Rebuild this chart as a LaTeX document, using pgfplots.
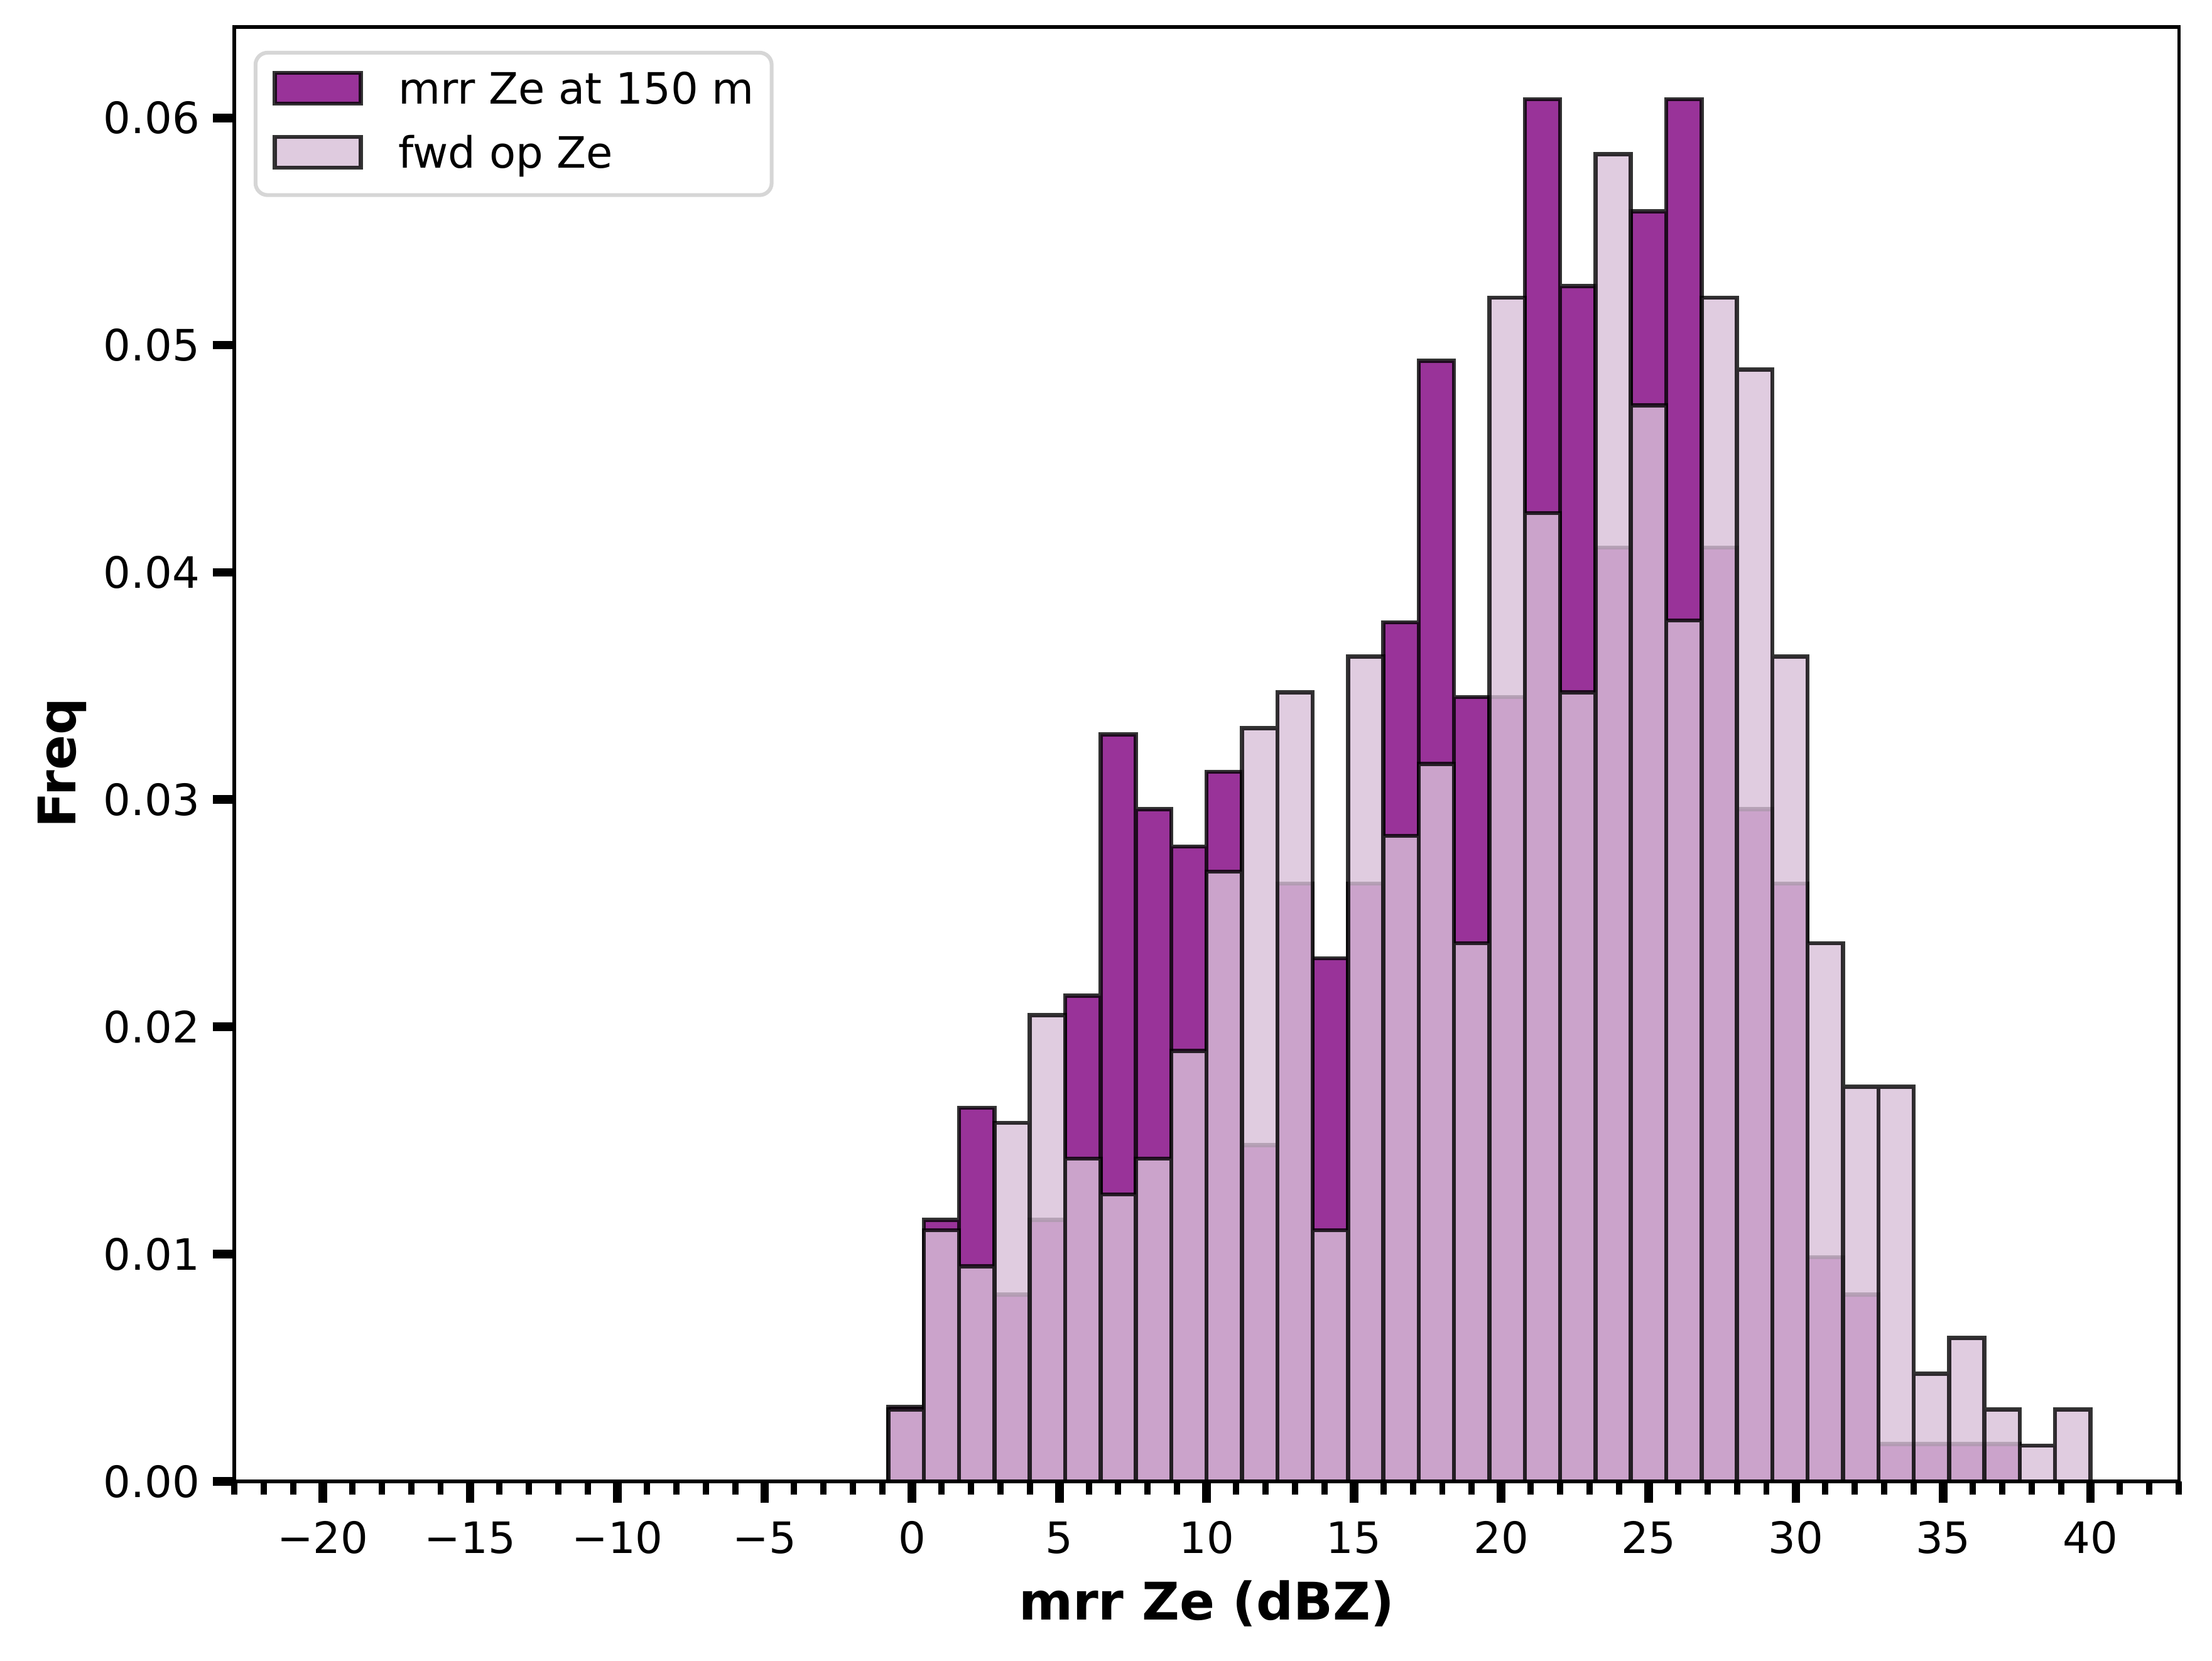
\documentclass[border=0pt]{standalone}
\usepackage{fontspec}
\setmainfont{DejaVu Sans}
\usepackage{pgfplots}
\pgfplotsset{compat=1.18}
\definecolor{mplpurple}{HTML}{800080}
\definecolor{mplthistle}{HTML}{D8BFD8}
\definecolor{legendgrey}{HTML}{D6D6D6}
\pgfplotsset{mpllegend/.style={legend image code/.code={%
  \draw[##1,sharp corners] (0.4pt,-2.35pt) rectangle (18.3pt,4.05pt);
  \path[draw=none,fill=none] (0pt,0pt) -- (26.1pt,0pt);}}}
\begin{document}
\begin{tikzpicture}
\useasboundingbox (-48.8pt,-37.4pt) rectangle (411.8pt,308.5pt);
\begin{axis}[
  at={(0pt,0pt)}, anchor=south west,
  scale only axis, width=404.9pt, height=302.9pt,
  xmin=-23, xmax=43, ymin=0, ymax=0.0640,
  axis on top,
  axis line style={line width=0.7pt},
  tick align=outside, tick pos=left,
  xtick={-20,-15,-10,-5,0,5,10,15,20,25,30,35,40},
  xticklabels={−20,−15,−10,−5,0,5,10,15,20,25,30,35,40},
  minor xtick={-23,-22,...,43},
  ytick={0,0.01,0.02,0.03,0.04,0.05,0.06},
  yticklabels={0.00,0.01,0.02,0.03,0.04,0.05,0.06},
  scaled y ticks=false,
  major tick length=4.5pt, minor tick length=2.8pt,
  major tick style={line width=1.8pt, black},
  minor tick style={line width=1.3pt, black},
  tick label style={font=\fontsize{9}{10.8}\selectfont},
  xticklabel style={anchor=base, inner sep=0pt, yshift=-10.5pt},
  yticklabel style={anchor=east, inner sep=0pt, xshift=-2.5pt},
  xlabel={mrr Ze (dBZ)}, ylabel={Freq},
  label style={font=\fontsize{10.8}{13}\selectfont\bfseries, inner sep=0pt},
  xlabel style={at={(axis description cs:0.5,-0.0951)}, anchor=base},
  ylabel style={at={(axis description cs:-0.0815,0.494)}, anchor=base},
  legend style={at={(axis description cs:0.0099,0.9836)}, anchor=north west,
    draw=legendgrey, line width=0.8pt, rounded corners=2.5pt, fill=white,
    inner xsep=3.6pt, inner ysep=3.8pt, row sep=4.6pt, column sep=0pt,
    font=\fontsize{9}{10.8}\selectfont,
    nodes={inner sep=0pt, text height=6.6pt, text depth=1.9pt, anchor=west}},
  legend cell align=left,
]
\addplot[ybar interval, fill=mplpurple, fill opacity=0.8, draw=black, draw opacity=0.8, line width=0.85pt, mpllegend] coordinates {
(-0.8,0.003287) (0.4,0.011506) (1.6,0.016437) (2.8,0.008218) (4.0,0.011506) (5.2,0.021368) (6.4,0.032873) (7.6,0.029586) (8.8,0.027942) (10.0,0.031229) (11.2,0.014793) (12.4,0.026299) (13.6,0.023011) (14.8,0.026299) (16.0,0.037804) (17.2,0.049310) (18.4,0.034517) (19.6,0.034517) (20.8,0.060815) (22.0,0.052597) (23.2,0.041091) (24.4,0.055884) (25.6,0.060815) (26.8,0.041091) (28.0,0.029586) (29.2,0.026299) (30.4,0.009862) (31.6,0.008218) (32.8,0.001644) (34.0,0.001644) (35.2,0.001644) (36.4,0.001644) (37.6,0)
};
\addlegendentry{mrr Ze at 150 m}
\addplot[ybar interval, fill=mplthistle, fill opacity=0.8, draw=black, draw opacity=0.8, line width=0.85pt, mpllegend] coordinates {
(-0.8,0.003157) (0.4,0.011048) (1.6,0.009470) (2.8,0.015783) (4.0,0.020518) (5.2,0.014205) (6.4,0.012626) (7.6,0.014205) (8.8,0.018939) (10.0,0.026831) (11.2,0.033144) (12.4,0.034722) (13.6,0.011048) (14.8,0.036300) (16.0,0.028409) (17.2,0.031566) (18.4,0.023674) (19.6,0.052083) (20.8,0.042614) (22.0,0.034722) (23.2,0.058396) (24.4,0.047348) (25.6,0.037879) (26.8,0.052083) (28.0,0.048927) (29.2,0.036300) (30.4,0.023674) (31.6,0.017361) (32.8,0.017361) (34.0,0.004735) (35.2,0.006313) (36.4,0.003157) (37.6,0.001578) (38.8,0.003157) (40.0,0)
};
\addlegendentry{fwd op Ze}
\end{axis}
\end{tikzpicture}
\end{document}
